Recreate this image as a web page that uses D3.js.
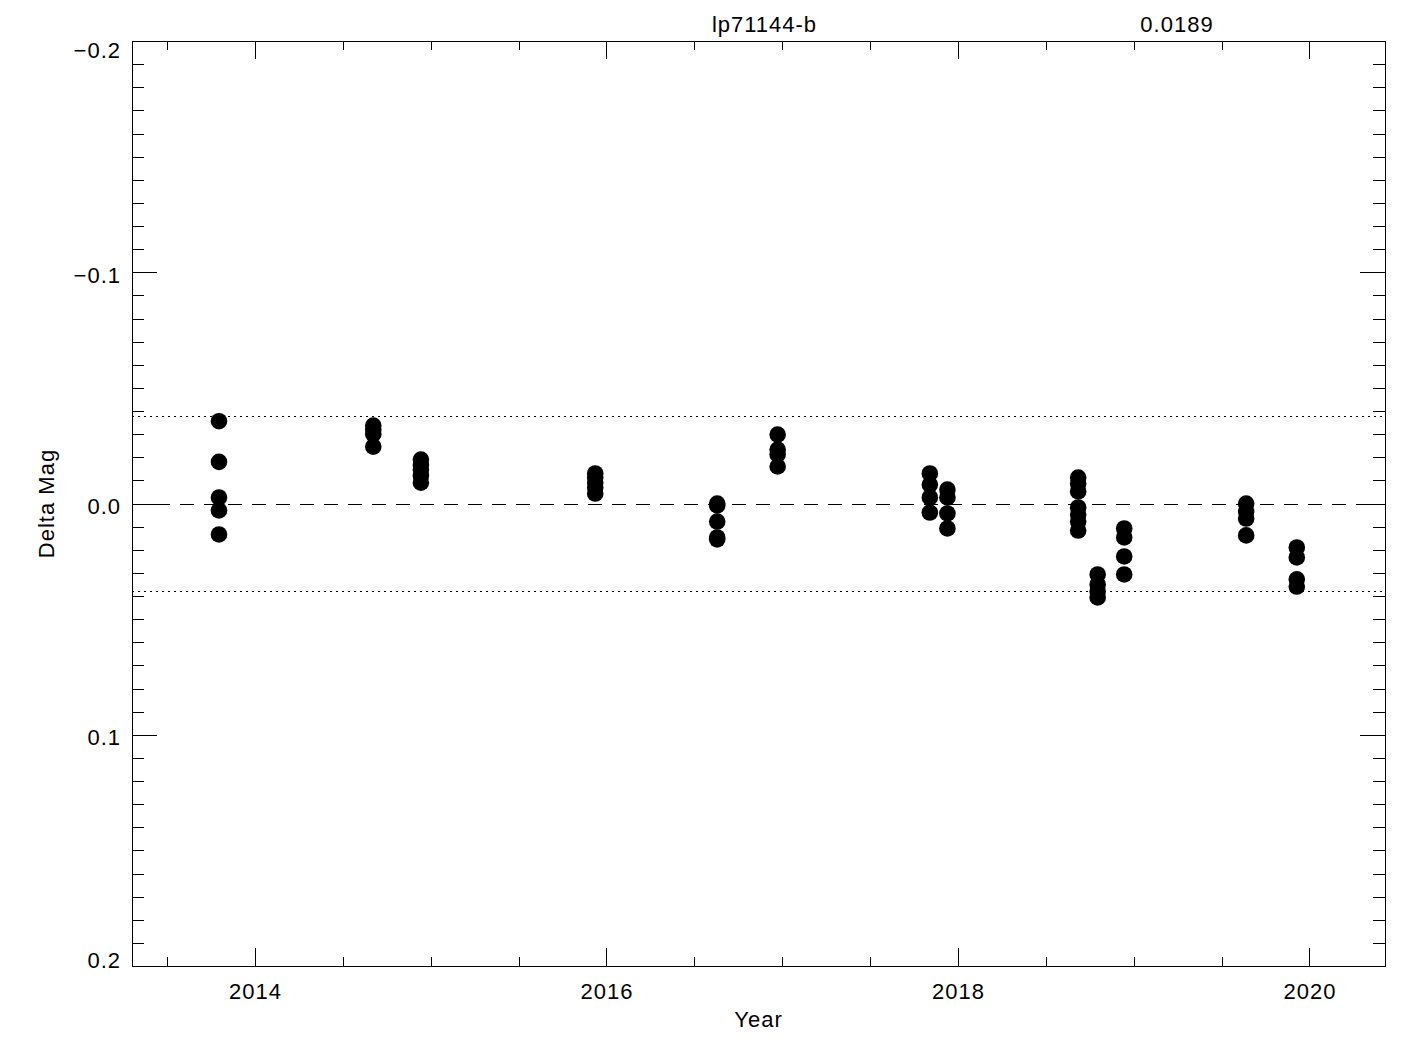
<!DOCTYPE html>
<html>
<head>
<meta charset="utf-8">
<script src="https://cdn.jsdelivr.net/npm/d3@7"></script>
<style>
body { margin: 0; background: #fff; }
text { font-family: "Liberation Sans", sans-serif; font-size: 22px; letter-spacing: 1px; fill: #000; }
.axis path, .axis line { stroke: #000; stroke-width: 1; shape-rendering: crispEdges; }
</style>
</head>
<body>
<svg id="chart" width="1425" height="1050"></svg>
<script>
// star name and rms scatter printed above the plot
var starName = "lp71144-b";
var rmsScatter = 0.0189;

// observing epochs (decimal year), one per night
var epochYears = [2013.795, 2014.673, 2014.944, 2015.936, 2016.630, 2016.974,
                  2017.840, 2017.940, 2018.684, 2018.795, 2018.946, 2019.640, 2019.928];

// delta mag of each frame on that night
var epochMags = [
    [-0.0356, -0.0180, -0.0026, 0.0030, 0.0134],
    [-0.0337, -0.0320, -0.0300, -0.0246],
    [-0.0190, -0.0168, -0.0147, -0.0120, -0.0090],
    [-0.0130, -0.0112, -0.0090, -0.0069, -0.0043],
    [0.0000, 0.0008, 0.0078, 0.0147, 0.0155],
    [-0.0298, -0.0233, -0.0212, -0.0160],
    [-0.0130, -0.0082, -0.0026, 0.0039],
    [-0.0060, -0.0026, 0.0043, 0.0108],
    [-0.0112, -0.0086, -0.0052, 0.0017, 0.0048, 0.0078, 0.0117],
    [0.0307, 0.0350, 0.0380, 0.0406],
    [0.0108, 0.0147, 0.0229, 0.0307],
    [0.0000, 0.0035, 0.0065, 0.0138],
    [0.0190, 0.0233, 0.0328, 0.0359]
];

var xTickLabels = [2014, 2016, 2018, 2020];
var yTickLabels = [-0.2, -0.1, 0.0, 0.1, 0.2];

var margin = {top: 41, right: 40, bottom: 84, left: 132};
var width = 1385 - margin.left,
    height = 966 - margin.top;

var svg = d3.select("#chart");
var g = svg.append("g")
    .attr("transform", "translate(" + margin.left + "," + margin.top + ")");

var x = d3.scaleLinear().domain([2013.30, 2020.43]).range([0, width]);
var y = d3.scaleLinear().domain([-0.2, 0.2]).range([0, height]);

var xMinor = d3.range(2013.5, 2020.5, 0.5).filter(function(d) { return d % 2 !== 0; });
var yMinor = d3.range(-20, 21).map(function(d) { return d / 100; })
    .filter(function(d) { return Math.round(d * 100) % 10 !== 0; });

// points
var points = [];
epochYears.forEach(function(yr, i) {
    epochMags[i].forEach(function(m) { points.push({year: yr, mag: m}); });
});

// reference lines: zero and +/- 2 sigma
g.append("line")
    .attr("x1", 0).attr("x2", width)
    .attr("y1", Math.round(y(0)) + 0.5).attr("y2", Math.round(y(0)) + 0.5)
    .attr("stroke", "#000").attr("stroke-dasharray", "14,10");

[-2 * rmsScatter, 2 * rmsScatter].forEach(function(v) {
    g.append("line")
        .attr("x1", 0).attr("x2", width)
        .attr("y1", Math.round(y(v)) + 0.5).attr("y2", Math.round(y(v)) + 0.5)
        .attr("stroke", "#000").attr("stroke-dasharray", "2,4");
});

g.selectAll("circle")
    .data(points)
    .enter()
    .append("circle")
    .attr("cx", function(d) { return x(d.year); })
    .attr("cy", function(d) { return y(d.mag); })
    .attr("r", 8.3)
    .attr("fill", "#000");

// axes, ticks pointing inward on all four sides
var fmtY = d3.format(".1f");

g.append("g").attr("class", "axis")
    .attr("transform", "translate(0," + height + ")")
    .call(d3.axisBottom(x).tickValues(xTickLabels).tickFormat(d3.format("d"))
        .tickSize(-18).tickSizeOuter(0).tickPadding(17));
g.append("g").attr("class", "axis minor")
    .attr("transform", "translate(0," + height + ")")
    .call(d3.axisBottom(x).tickValues(xMinor).tickFormat("").tickSize(-9).tickSizeOuter(0));

g.append("g").attr("class", "axis")
    .call(d3.axisTop(x).tickValues(xTickLabels).tickFormat("").tickSize(-18).tickSizeOuter(0));
g.append("g").attr("class", "axis minor")
    .call(d3.axisTop(x).tickValues(xMinor).tickFormat("").tickSize(-9).tickSizeOuter(0));

var yLeft = g.append("g").attr("class", "axis")
    .call(d3.axisLeft(y).tickValues(yTickLabels).tickFormat(fmtY)
        .tickSize(-25).tickSizeOuter(0).tickPadding(11));
g.append("g").attr("class", "axis minor")
    .call(d3.axisLeft(y).tickValues(yMinor).tickFormat("").tickSize(-12).tickSizeOuter(0));

g.append("g").attr("class", "axis")
    .attr("transform", "translate(" + width + ",0)")
    .call(d3.axisRight(y).tickValues(yTickLabels).tickFormat("").tickSize(-25).tickSizeOuter(0));
g.append("g").attr("class", "axis minor")
    .attr("transform", "translate(" + width + ",0)")
    .call(d3.axisRight(y).tickValues(yMinor).tickFormat("").tickSize(-12).tickSizeOuter(0));

// end labels are pushed inside the axis range
yLeft.selectAll(".tick text")
    .attr("y", function(d) {
        if (d === y.domain()[0]) return 9;
        if (d === y.domain()[1]) return -6;
        return 3;
    });

g.selectAll(".axis text")
    .style("font-family", "Liberation Sans")
    .style("font-size", "22px")
    .style("letter-spacing", "1px");

// labels
svg.append("text")
    .attr("x", margin.left + width / 2 + 6)
    .attr("y", 32)
    .attr("text-anchor", "middle")
    .text(starName);

svg.append("text")
    .attr("x", 1177)
    .attr("y", 32)
    .attr("text-anchor", "middle")
    .text(rmsScatter.toFixed(4));

svg.append("text")
    .attr("x", margin.left + width / 2)
    .attr("y", 1027)
    .attr("text-anchor", "middle")
    .text("Year");

svg.append("text")
    .attr("transform", "translate(54," + (margin.top + height / 2) + ") rotate(-90)")
    .attr("text-anchor", "middle")
    .text("Delta Mag");
</script>
</body>
</html>
